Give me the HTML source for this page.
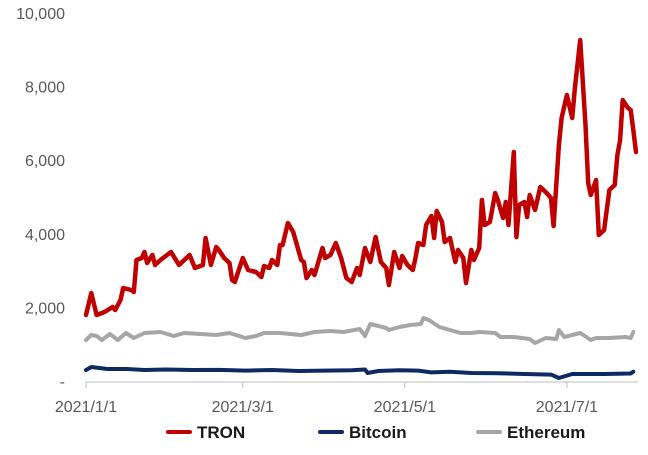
<!DOCTYPE html>
<html><head><meta charset="utf-8"><style>
body{margin:0;background:#fff;width:648px;height:450px;overflow:hidden;font-family:"Liberation Sans",Arial,sans-serif}
</style></head><body>
<svg id="chart" width="648" height="450" xmlns="http://www.w3.org/2000/svg"></svg>
<script>
const yTicks=[0,2000,4000,6000,8000,10000];
const yTickLabels=["-","2,000","4,000","6,000","8,000","10,000"];
const xTickDays=[0,59,120,181];
const xTickLabels=["2021/1/1","2021/3/1","2021/5/1","2021/7/1"];
const seriesNames=["TRON","Bitcoin","Ethereum"];
const tronDays=[0,2,4,7,10,11,13,14,17,18,19,21,22,23,25,26,28,29,32,35,37,39,41,44,45,47,49,50,52,54,55,56,59,61,64,66,67,69,70,72,73,74,76,78,81,82,83,85,86,89,90,92,94,96,98,100,102,103,105,107,109,111,113,114,116,118,119,121,123,124,125,127,128,130,131,132,134,135,137,139,140,142,143,145,146,148,149,150,152,154,155,157,158,159,161,162,163,165,166,167,169,171,173,175,176,178,179,181,183,184,186,188,189,190,192,193,195,197,199,200,201,202,204,205,206,207];
const tronValues=[1820,2418,1820,1902,2038,1956,2228,2554,2500,2445,3315,3369,3532,3233,3451,3179,3315,3369,3532,3179,3315,3451,3097,3179,3913,3179,3668,3586,3369,3233,2771,2717,3369,3043,2989,2853,3152,3097,3315,3179,3722,3722,4320,4076,3315,3260,2826,3043,2907,3641,3369,3451,3777,3369,2826,2717,3097,2907,3641,3260,3940,3260,3097,2636,3532,3097,3423,3179,3043,3369,3777,3722,4266,4510,3913,4646,4347,3804,3913,3260,3586,3369,2690,3586,3315,3641,4945,4266,4347,5135,4945,4456,4891,4266,6249,3940,4809,4891,4483,5081,4673,5298,5162,4999,4239,6439,7173,7798,7173,7988,9292,6983,5407,5081,5488,3994,4130,5217,5352,6168,6575,7662,7445,7390,6847,6249];
const ethDays=[0,2,4,6,9,12,15,18,22,28,33,37,43,49,54,60,64,67,73,81,86,92,97,103,105,107,110,113,114,118,122,126,127,129,133,137,141,145,148,154,156,161,167,169,173,177,178,180,186,190,192,197,203,205,206];
const ethValues=[1141,1277,1250,1141,1304,1141,1331,1196,1331,1359,1250,1331,1304,1277,1331,1196,1250,1331,1331,1277,1359,1386,1359,1440,1250,1576,1522,1467,1413,1494,1549,1576,1739,1685,1494,1413,1331,1331,1359,1331,1223,1223,1168,1060,1196,1168,1413,1223,1331,1141,1196,1196,1223,1196,1359];
const btcDays=[0,2,5,8,15,22,30,40,50,60,70,80,90,100,105,106,110,118,125,130,137,145,155,165,175,178,183,195,205,206];
const btcValues=[326,408,380,353,353,326,340,326,330,310,326,300,310,320,340,245,300,320,310,260,280,245,240,217,200,109,217,217,230,280];

const svg=document.getElementById('chart');
const NS='http://www.w3.org/2000/svg';
const xs=d=>86+d*2.657;
const ys=v=>382-v*0.0368;
function mk(tag,attrs){const e=document.createElementNS(NS,tag);for(const k in attrs)e.setAttribute(k,attrs[k]);svg.appendChild(e);return e;}

const axis=mk('line',{x1:86,x2:638,y1:382,y2:382,stroke:'#bfbfbf','stroke-width':1});



yTicks.forEach((v,i)=>{
  const t=mk('text',{x:65,y:ys(v)+5,'text-anchor':'end','font-size':16,fill:'#595959'});
  t.textContent=yTickLabels[i];
  
  
});
xTickDays.forEach((d,i)=>{
  const tk=mk('line',{x1:xs(d),x2:xs(d),y1:382,y2:388,stroke:'#bfbfbf','stroke-width':1});
  
  
  const t=mk('text',{x:xs(d),y:412,'text-anchor':'middle','font-size':16,fill:'#595959'});
  t.textContent=xTickLabels[i];
  
  
});

function line(days,vals,color,w,name){
  const p=mk('polyline',{points:days.map((d,i)=>xs(d).toFixed(1)+','+ys(vals[i]).toFixed(1)).join(' '),fill:'none',stroke:color,'stroke-width':w,'stroke-linejoin':'round','stroke-linecap':'round'});
  
  
}
line(ethDays,ethValues,'#a6a6a6',4,'ethereum-line');
line(btcDays,btcValues,'#0d2a63',4,'bitcoin-line');
line(tronDays,tronValues,'#c00000',4.5,'tron-line');

const legendColors=['#c00000','#0d2a63','#a6a6a6'];
const legendX=[168,320,478];
seriesNames.forEach((n,i)=>{
  const l=mk('line',{x1:legendX[i],x2:legendX[i]+22,y1:432,y2:432,stroke:legendColors[i],'stroke-width':4,'stroke-linecap':'round'});
  
  
  const t=mk('text',{x:legendX[i]+29,y:438,'font-size':17,'font-weight':'bold',fill:'#1a1a1a'});
  t.textContent=n;
  
  
});
</script>
</body></html>
